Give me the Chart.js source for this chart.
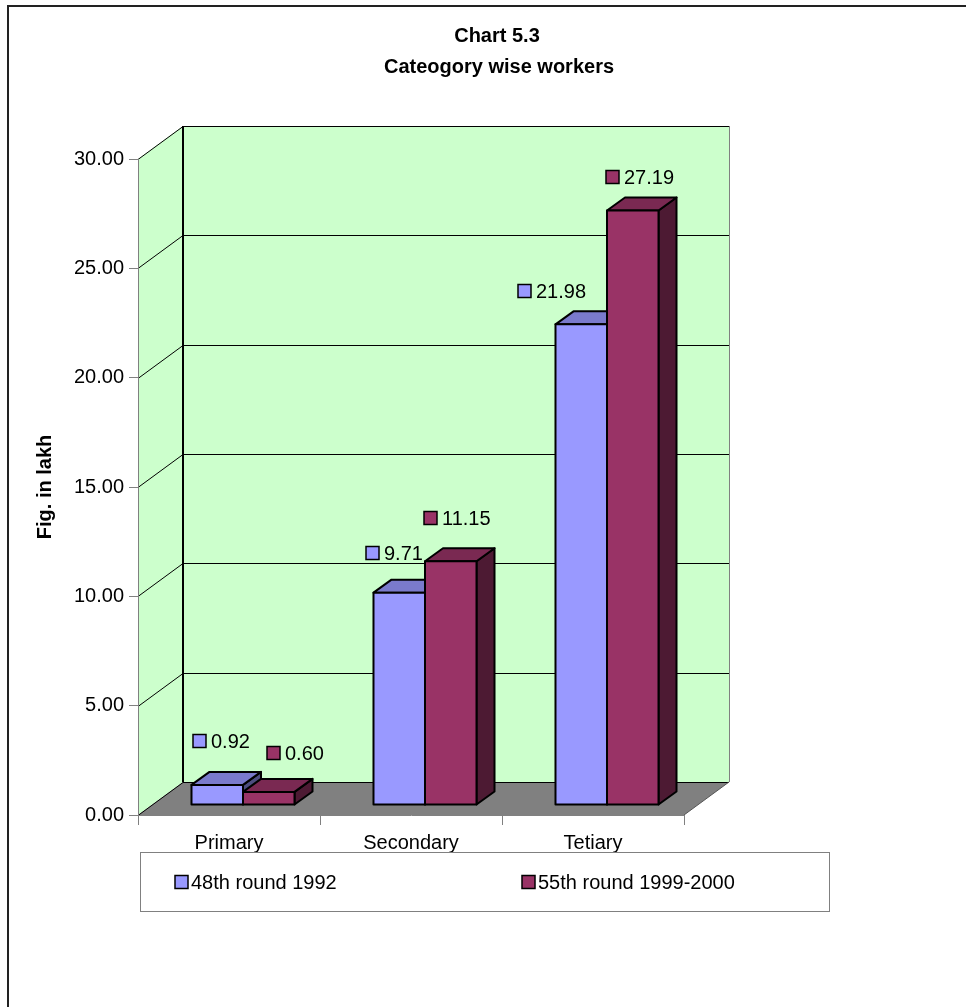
<!DOCTYPE html>
<html>
<head>
<meta charset="utf-8">
<script src="https://cdn.jsdelivr.net/npm/chart.js@4.4.0/dist/chart.umd.min.js"></script>
<style>
html, body { margin: 0; padding: 0; background: #fff; }
</style>
</head>
<body>
<canvas id="chart" width="966" height="1007"></canvas>
<script>
const categories = ['Primary', 'Secondary', 'Tetiary'];
const round48 = [0.92, 9.71, 21.98];
const round55 = [0.60, 11.15, 27.19];
const seriesNames = ['48th round 1992', '55th round 1999-2000'];
const titleLines = ['Chart 5.3', 'Cateogory wise workers'];
const yTitle = 'Fig. in lakh';

const FONT = "'Liberation Sans', Arial, sans-serif";
// front, top and side shades of each series
const shades = [
    ['#9999FF', '#7A7ACC', '#4D4D80'],
    ['#993366', '#7A2952', '#4D1A33']
];
const wall = { dx: 45, dy: -33 };     // back wall offset from the front plane
const barShift = { dx: 14, dy: -10 }; // bars stand a little behind the front edge
const barDepth = { dx: 18, dy: -13 };
// label square position relative to the bar's front top-left corner (as Excel placed them)
const labelNudge = [
    [[2, -44], [-7, -40], [-37, -33]],
    [[24, -39], [-1, -43], [-1, -33]]
];

function poly(ctx, pts) {
    ctx.beginPath();
    ctx.moveTo(pts[0][0], pts[0][1]);
    for (let i = 1; i < pts.length; i++) ctx.lineTo(pts[i][0], pts[i][1]);
    ctx.closePath();
}

function line(ctx, x1, y1, x2, y2) {
    ctx.beginPath();
    ctx.moveTo(x1, y1);
    ctx.lineTo(x2, y2);
    ctx.stroke();
}

const excel3d = {
    id: 'excel3d',
    beforeDraw(chart) {
        const { ctx, chartArea: a, scales: { y } } = chart;
        const { dx, dy } = wall;
        ctx.save();
        ctx.fillStyle = '#fff';
        ctx.fillRect(0, 0, chart.width, chart.height);

        // outer frame
        ctx.strokeStyle = '#222';
        ctx.lineWidth = 2;
        ctx.beginPath();
        ctx.moveTo(8, chart.height);
        ctx.lineTo(8, 6);
        ctx.lineTo(chart.width, 6);
        ctx.stroke();

        // title
        ctx.fillStyle = '#000';
        ctx.font = 'bold 20px ' + FONT;
        ctx.textAlign = 'center';
        ctx.textBaseline = 'middle';
        ctx.fillText(titleLines[0], 497, 36);
        ctx.fillText(titleLines[1], 499, 67);

        // walls and floor
        ctx.fillStyle = '#CCFFCC';
        poly(ctx, [[a.left, a.top], [a.left + dx, a.top + dy], [a.left + dx, a.bottom + dy], [a.left, a.bottom]]);
        ctx.fill();
        ctx.fillRect(a.left + dx, a.top + dy, a.width, a.height);
        ctx.fillStyle = '#808080';
        poly(ctx, [[a.left, a.bottom], [a.right, a.bottom], [a.right + dx, a.bottom + dy], [a.left + dx, a.bottom + dy]]);
        ctx.fill();

        // grid lines on side and back wall
        ctx.strokeStyle = '#000';
        ctx.lineWidth = 1;
        y.ticks.forEach(t => {
            const py = Math.round(y.getPixelForValue(t.value)) + 0.5;
            ctx.beginPath();
            ctx.moveTo(a.left, py);
            ctx.lineTo(a.left + dx, py + dy);
            ctx.lineTo(a.right + dx, py + dy);
            ctx.stroke();
        });
        // wall edges
        ctx.lineWidth = 2;
        line(ctx, a.left + dx, a.top + dy, a.left + dx, a.bottom + dy);
        ctx.lineWidth = 1;
        ctx.strokeStyle = '#808080';
        line(ctx, a.right + dx + 0.5, a.top + dy, a.right + dx + 0.5, a.bottom + dy);
        ctx.strokeStyle = '#555';
        line(ctx, a.right, a.bottom, a.right + dx, a.bottom + dy);
        ctx.restore();
    },
    beforeDatasetsDraw(chart) {
        const ctx = chart.ctx;
        const { dx, dy } = barDepth;
        ctx.save();
        ctx.translate(barShift.dx, barShift.dy);
        ctx.lineWidth = 2;
        ctx.strokeStyle = '#000';
        ctx.lineJoin = 'round';
        chart.data.datasets.forEach((ds, i) => {
            chart.getDatasetMeta(i).data.forEach(bar => {
                const { x, y, base, width } = bar.getProps(['x', 'y', 'base', 'width'], true);
                const l = x - width / 2, r = x + width / 2;
                ctx.fillStyle = shades[i][2];
                poly(ctx, [[r, y], [r + dx, y + dy], [r + dx, base + dy], [r, base]]);
                ctx.fill();
                ctx.stroke();
                ctx.fillStyle = shades[i][1];
                poly(ctx, [[l, y], [l + dx, y + dy], [r + dx, y + dy], [r, y]]);
                ctx.fill();
                ctx.stroke();
                bar.draw(ctx);
                ctx.strokeRect(l, y, width, base - y);
            });
        });
        ctx.restore();
        return false;
    },
    afterDraw(chart) {
        const ctx = chart.ctx;
        ctx.save();
        ctx.font = '20px ' + FONT;
        ctx.textAlign = 'left';
        ctx.textBaseline = 'middle';
        ctx.lineWidth = 1.5;
        ctx.strokeStyle = '#000';
        chart.data.datasets.forEach((ds, i) => {
            chart.getDatasetMeta(i).data.forEach((bar, j) => {
                const left = bar.x - bar.width / 2 + barShift.dx;
                const top = bar.y + barShift.dy;
                const sx = Math.round(left + labelNudge[i][j][0]);
                const cy = Math.round(top + labelNudge[i][j][1]);
                ctx.fillStyle = shades[i][0];
                ctx.fillRect(sx, cy - 6.5, 13, 13);
                ctx.strokeRect(sx, cy - 6.5, 13, 13);
                ctx.fillStyle = '#000';
                ctx.fillText(ds.data[j].toFixed(2), sx + 18, cy + 1);
            });
        });

        // legend
        ctx.strokeStyle = '#808080';
        ctx.lineWidth = 1;
        ctx.strokeRect(140.5, 852.5, 689, 59);
        const legendX = [175, 522];
        ctx.strokeStyle = '#000';
        ctx.lineWidth = 1.5;
        seriesNames.forEach((name, i) => {
            ctx.fillStyle = shades[i][0];
            ctx.fillRect(legendX[i], 875.5, 13, 13);
            ctx.strokeRect(legendX[i], 875.5, 13, 13);
            ctx.fillStyle = '#000';
            ctx.fillText(name, legendX[i] + 16, 883);
        });
        ctx.restore();
    }
};

new Chart(document.getElementById('chart'), {
    type: 'bar',
    data: {
        labels: categories,
        datasets: [
            { label: seriesNames[0], data: round48, backgroundColor: shades[0][0], borderWidth: 0 },
            { label: seriesNames[1], data: round55, backgroundColor: shades[1][0], borderWidth: 0 }
        ]
    },
    options: {
        responsive: false,
        animation: false,
        layout: { padding: { left: 0, top: 159, right: 282, bottom: 0 } },
        datasets: { bar: { categoryPercentage: 0.566, barPercentage: 1 } },
        plugins: {
            legend: { display: false },
            title: { display: false },
            tooltip: { enabled: false }
        },
        scales: {
            x: {
                offset: true,
                grid: { offset: true, drawOnChartArea: false, tickLength: 10, color: '#808080' },
                border: { color: '#808080' },
                ticks: { font: { family: FONT, size: 20 }, color: '#000', padding: 6, maxRotation: 0 },
                afterFit(scale) { scale.height = 192; }
            },
            y: {
                min: 0,
                max: 30,
                ticks: {
                    stepSize: 5,
                    font: { family: FONT, size: 20 },
                    color: '#000',
                    padding: 5,
                    callback: v => v.toFixed(2)
                },
                grid: { drawOnChartArea: false, tickLength: 9, color: '#808080' },
                border: { color: '#808080' },
                title: {
                    display: true,
                    text: yTitle,
                    font: { family: FONT, size: 20, weight: 'bold' },
                    color: '#000',
                    padding: { top: 33, bottom: 0 }
                },
                afterFit(scale) { scale.width = 138; }
            }
        }
    },
    plugins: [excel3d]
});
</script>
</body>
</html>
